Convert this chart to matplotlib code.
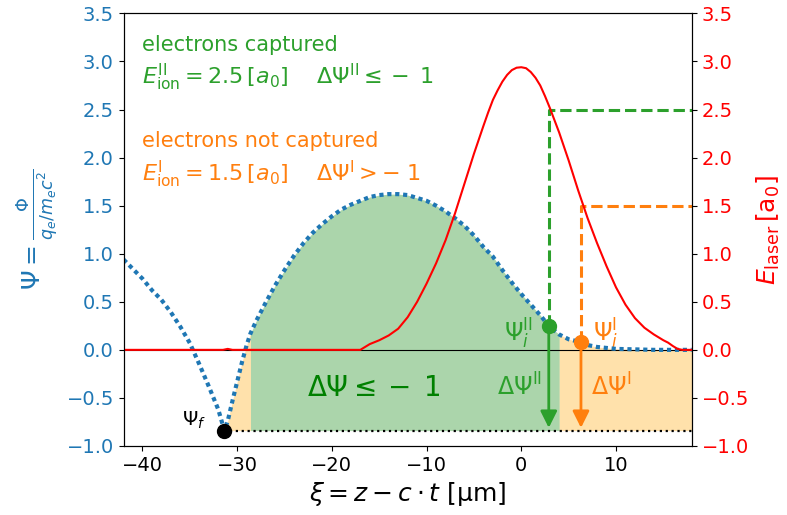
import matplotlib
matplotlib.use('Agg')
import matplotlib.pyplot as plt
import numpy as np

# Wakefield-Potential Psi entlang xi
psi_x = np.array([-42, -41, -40, -39, -38, -37, -36, -35, -34, -33, -32, -31.35,
                  -31, -30.5, -30, -29.5, -29, -28.6, -28, -27, -26, -25, -24, -23,
                  -22, -21, -20, -19, -18, -17, -16, -15, -14, -13, -12, -11, -10,
                  -9, -8, -7, -6, -5, -4, -3, -2, -1, 0, 1, 2, 2.9, 4, 5, 6.3, 7,
                  8, 9, 10, 12, 14, 16, 18])
psi = np.array([0.94, 0.84, 0.74, 0.62, 0.52, 0.39, 0.24, 0.07, -0.15, -0.38, -0.62, -0.84,
                -0.74, -0.53, -0.33, -0.13, 0.05, 0.17, 0.30, 0.49, 0.67, 0.83, 0.98, 1.11,
                1.22, 1.31, 1.39, 1.46, 1.51, 1.55, 1.59, 1.61, 1.62, 1.62, 1.61, 1.58, 1.55,
                1.50, 1.44, 1.37, 1.29, 1.19, 1.07, 0.97, 0.83, 0.70, 0.58, 0.47, 0.36, 0.25,
                0.16, 0.11, 0.08, 0.05, 0.03, 0.02, 0.01, 0.005, 0.0, 0.0, 0.0])

# Laserfeld
e_x = np.array([-42, -31.5, -31, -30.5, -17, -16.5, -16, -15, -14, -13, -12, -11, -10, -9,
                -8, -7, -6, -5, -4, -3.5, -3, -2.5, -2, -1.5, -1, -0.5, 0, 0.5, 1, 1.5,
                2, 2.5, 3, 3.5, 4, 5, 6, 7, 8, 9, 10, 11, 12, 13, 14, 15, 15.5, 16,
                16.5, 17, 18])
e_laser = np.array([0, 0, 0.01, 0, 0, 0.03, 0.06, 0.10, 0.15, 0.22, 0.34, 0.50, 0.69, 0.90,
                    1.14, 1.42, 1.73, 2.04, 2.33, 2.47, 2.60, 2.70, 2.79, 2.86, 2.91, 2.935,
                    2.94, 2.93, 2.89, 2.83, 2.75, 2.64, 2.52, 2.39, 2.26, 1.97, 1.66, 1.37,
                    1.11, 0.87, 0.65, 0.47, 0.33, 0.23, 0.16, 0.10, 0.075, 0.04, 0.01, 0.0,
                    0.0])

# Ionisationspunkte
E_ion2, xi_2, psi_i2 = 2.5, 2.9, 0.25
E_ion1, xi_1, psi_i1 = 1.5, 6.3, 0.08
xi_f, psi_f = -31.35, -0.84
xi_gruen_links, xi_gruen_rechts = -28.6, 4.0

fig = plt.figure(figsize=(7.87, 5.15), dpi=100)
ax = fig.add_axes([0.157, 0.134, 0.722, 0.840])
ax2 = ax.twinx()

# Flaechen
m_gruen = (psi_x >= xi_gruen_links) & (psi_x <= xi_gruen_rechts)
m_links = (psi_x >= xi_f) & (psi_x <= xi_gruen_links)
m_rechts = psi_x >= xi_gruen_rechts
ax.fill_between(psi_x[m_gruen], psi[m_gruen], psi_f, color='g', alpha=0.33, lw=0)
ax.fill_between(psi_x[m_links], psi[m_links], psi_f, color='orange', alpha=0.33, lw=0)
ax.fill_between(psi_x[m_rechts], psi[m_rechts], psi_f, color='orange', alpha=0.33, lw=0)

ax.axhline(0, color='k', lw=0.8)
ax.plot([xi_f, 18], [psi_f, psi_f], color='k', ls=':', lw=1.6)

ax2.plot(e_x, e_laser, color='r', lw=1.5)

ax.plot(psi_x, psi, color='tab:blue', ls=(0, (1, 0.9)), lw=3, zorder=4)

# Ionisationsschwellen
ax.plot([xi_2, xi_2, 18], [psi_i2, E_ion2, E_ion2], color='tab:green', ls='--', lw=2.2)
ax.plot([xi_1, xi_1, 18], [psi_i1, E_ion1, E_ion1], color='tab:orange', ls='--', lw=2.2)

ax.annotate('', xy=(xi_2, psi_f), xytext=(xi_2, psi_i2),
            arrowprops=dict(arrowstyle='-|>', color='tab:green', lw=2, mutation_scale=25))
ax.annotate('', xy=(xi_1, psi_f), xytext=(xi_1, psi_i1),
            arrowprops=dict(arrowstyle='-|>', color='tab:orange', lw=2, mutation_scale=25))

ax.plot(xi_2, psi_i2, 'o', color='tab:green', ms=10, zorder=6)
ax.plot(xi_1, psi_i1, 'o', color='tab:orange', ms=10, zorder=6)
ax.plot(xi_f, psi_f, 'o', color='k', ms=10, zorder=6)

# Beschriftungen
ax.text(-40, 3.17, 'electrons captured', color='tab:green', fontsize=15, va='center')
ax.text(-40, 2.83, r'$E^{\rm II}_{\rm ion} = 2.5\,[a_0]$    $\Delta\Psi^{\rm II} \leq -\;1$',
        color='tab:green', fontsize=16, va='center')
ax.text(-40, 2.17, 'electrons not captured', color='tab:orange', fontsize=15, va='center')
ax.text(-40, 1.82, r'$E^{\rm I}_{\rm ion} = 1.5\,[a_0]$    $\Delta\Psi^{\rm I} > -\;1$',
        color='tab:orange', fontsize=16, va='center')
ax.text(-15.6, -0.40, r'$\Delta\Psi \leq -\;1$', color='g', fontsize=20, ha='center', va='center')
ax.text(-34.6, -0.73, r'$\Psi_f$', color='k', fontsize=14, ha='center', va='center')
ax.text(-0.3, 0.17, r'$\Psi^{\rm II}_i$', color='tab:green', fontsize=17, ha='center', va='center')
ax.text(8.9, 0.17, r'$\Psi^{\rm I}_i$', color='tab:orange', fontsize=17, ha='center', va='center')
ax.text(-0.2, -0.39, r'$\Delta\Psi^{\rm II}$', color='tab:green', fontsize=17, ha='center', va='center')
ax.text(9.5, -0.39, r'$\Delta\Psi^{\rm I}$', color='tab:orange', fontsize=17, ha='center', va='center')

ax.set_xlim(-42, 18)
ax.set_ylim(-1, 3.5)
ax2.set_ylim(-1, 3.5)
ax.set_xticks([-40, -30, -20, -10, 0, 10])
ax.set_yticks(np.arange(-1, 3.51, 0.5))
ax2.set_yticks(np.arange(-1, 3.51, 0.5))
ax.tick_params(axis='x', labelsize=14)
ax.tick_params(axis='y', labelsize=14, labelcolor='tab:blue')
ax2.tick_params(axis='y', labelsize=14, labelcolor='r')

ax.set_xlabel(r'$\xi = z - c\cdot t$ [μm]', fontsize=18)
ax.set_ylabel(r'$\Psi = \frac{\Phi}{q_e/m_e c^2}$', fontsize=18, color='tab:blue')
ax2.set_ylabel(r'$E_{\rm laser}\,[\mathrm{a_0}]$', fontsize=18, color='r')

fig.savefig('out.png', dpi=100)
